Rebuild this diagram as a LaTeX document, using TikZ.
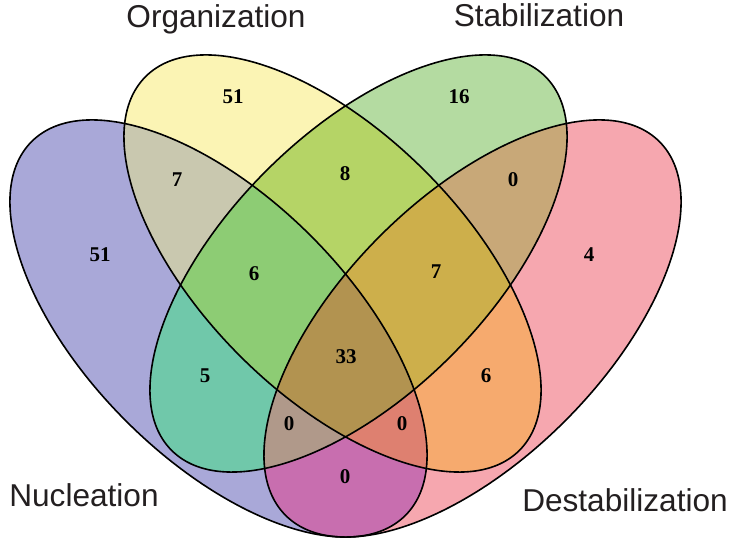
\documentclass[tikz,border=0pt]{standalone}
\usepackage{fontspec}
\setmainfont{Liberation Serif}
\newfontfamily\setfont{Liberation Sans}
\usepackage{xcolor}

% fills of the 15 regions
\definecolor{cN}{HTML}{A9A8D8}
\definecolor{cO}{HTML}{FBF4B4}
\definecolor{cS}{HTML}{B4DBA1}
\definecolor{cD}{HTML}{F6A7AF}
\definecolor{cNO}{HTML}{C9C8AF}
\definecolor{cNS}{HTML}{70C8AA}
\definecolor{cND}{HTML}{C86EAF}
\definecolor{cOS}{HTML}{B5D466}
\definecolor{cOD}{HTML}{F6AA6E}
\definecolor{cSD}{HTML}{C8A878}
\definecolor{cNOS}{HTML}{8DCC74}
\definecolor{cNOD}{HTML}{DE8070}
\definecolor{cNSD}{HTML}{B0998A}
\definecolor{cOSD}{HTML}{CDAF4B}
\definecolor{cNOSD}{HTML}{B29350}
\definecolor{labelgrey}{HTML}{231F20}

\newcommand{\nucpath}{[rotate around={-45:(218.5,210.5)}] (218.5,210.5) ellipse [x radius=264.3, y radius=130.8]}
\newcommand{\orgpath}{[rotate around={-45:(332.5,275.5)}] (332.5,275.5) ellipse [x radius=264.3, y radius=130.8]}
\newcommand{\stapath}{[rotate around={45:(358.5,275.5)}] (358.5,275.5) ellipse [x radius=264.3, y radius=130.8]}
\newcommand{\despath}{[rotate around={45:(472.5,210.5)}] (472.5,210.5) ellipse [x radius=264.3, y radius=130.8]}

\tikzset{
  vennline/.style={draw=black, line width=0.8pt},
  count/.style={font=\fontsize{10.5}{12}\selectfont\bfseries, inner sep=0pt},
  setname/.style={font=\setfont\fontsize{15.8}{19}\selectfont, text=labelgrey, anchor=base, inner sep=0pt}
}

\begin{document}
\begin{tikzpicture}[x=0.5pt, y=0.5pt]

\useasboundingbox (0,0) rectangle (732,539);

% one set
\fill[cN] \nucpath;
\fill[cO] \orgpath;
\fill[cS] \stapath;
\fill[cD] \despath;

% two sets
\begin{scope} \clip \nucpath; \fill[cNO] \orgpath; \end{scope}
\begin{scope} \clip \nucpath; \fill[cNS] \stapath; \end{scope}
\begin{scope} \clip \nucpath; \fill[cND] \despath; \end{scope}
\begin{scope} \clip \orgpath; \fill[cOS] \stapath; \end{scope}
\begin{scope} \clip \orgpath; \fill[cOD] \despath; \end{scope}
\begin{scope} \clip \stapath; \fill[cSD] \despath; \end{scope}

% three sets
\begin{scope} \clip \nucpath; \clip \orgpath; \fill[cNOS] \stapath; \end{scope}
\begin{scope} \clip \nucpath; \clip \orgpath; \fill[cNOD] \despath; \end{scope}
\begin{scope} \clip \nucpath; \clip \stapath; \fill[cNSD] \despath; \end{scope}
\begin{scope} \clip \orgpath; \clip \stapath; \fill[cOSD] \despath; \end{scope}

% all four
\begin{scope} \clip \nucpath; \clip \orgpath; \clip \stapath; \fill[cNOSD] \despath; \end{scope}

% outlines
\draw[vennline] \nucpath;
\draw[vennline] \orgpath;
\draw[vennline] \stapath;
\draw[vennline] \despath;

% counts
\node[count] (kN) at (100,284) {51};
\node[count] (kO) at (233,442) {51};
\node[count] (kS) at (459,442) {16};
\node[count] (kD) at (589,284) {4};
\node[count] (kNO) at (177,359) {7};
\node[count] (kOS) at (345,365) {8};
\node[count] (kSD) at (513,359) {0};
\node[count] (kNOS) at (254,265) {6};
\node[count] (kOSD) at (436,267) {7};
\node[count] (kNS) at (205,163) {5};
\node[count] (kOD) at (486,163) {6};
\node[count] (kNOSD) at (346,182) {33};
\node[count] (kNSD) at (289,115) {0};
\node[count] (kNOD) at (402,115) {0};
\node[count] (kND) at (345,62) {0};

% set names
\node[setname] (lO) at (216,511) {Organization};
\node[setname] (lS) at (539,512) {Stabilization};
\node[setname] (lN) at (84,32) {Nucleation};
\node[setname] (lD) at (625,27) {Destabilization};

\end{tikzpicture}
\end{document}
